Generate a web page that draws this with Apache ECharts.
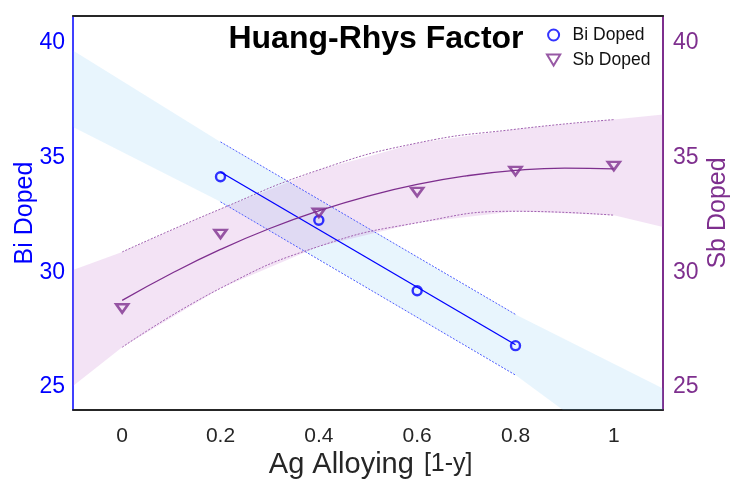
<!DOCTYPE html>
<html>
<head>
<meta charset="utf-8">
<script src="https://cdn.jsdelivr.net/npm/echarts@6/dist/echarts.min.js"></script>
<style>
html,body{margin:0;padding:0;background:#fff;}
#chart{width:731px;height:479px;}
</style>
</head>
<body>
<div id="chart"></div>
<script>
// ---- data ----
const xTicks = [0, 0.2, 0.4, 0.6, 0.8, 1];
const yTicks = [25, 30, 35, 40];

const biX = [0.2, 0.4, 0.6, 0.8];
const biY = [34.15, 32.26, 29.19, 26.80];
const biFitX = [0.2, 0.8];
const biFitY = [34.36, 26.84];
const biCiX = [0.2, 0.8];
const biCiUpper = [35.67, 28.16];
const biCiLower = [33.06, 25.52];
const biBandX = [-0.1, 0.2, 0.8, 1.1];
const biBandUpper = [39.65, 35.67, 28.16, 24.94];
const biBandLower = [36.32, 33.06, 25.52, 20.8];

const sbX = [0, 0.2, 0.4, 0.6, 0.8, 1.0];
const sbY = [28.42, 31.66, 32.58, 33.49, 34.40, 34.62];
const sbFitX = [0, 0.1, 0.2, 0.3, 0.4, 0.5, 0.6, 0.7, 0.8, 0.9, 1.0];
const sbFitY = [28.77, 29.94, 30.99, 31.90, 32.67, 33.31, 33.82, 34.19, 34.43, 34.53, 34.50];
const sbCiX = [0, 0.2, 0.4, 0.6, 0.8, 1.0];
const sbCiUpper = [30.88, 32.75, 34.45, 35.62, 36.22, 36.64];
const sbCiLower = [26.73, 29.30, 31.12, 32.15, 32.65, 32.48];
const sbBandX = [-0.1, 0, 0.2, 0.4, 0.6, 0.8, 1.0, 1.1];
const sbBandUpper = [30.09, 30.88, 32.75, 34.45, 35.62, 36.22, 36.64, 36.86];
const sbBandLower = [25.05, 26.73, 29.30, 31.12, 32.15, 32.65, 32.48, 31.97];

// ---- styles ----
const BLUE = '#0000ff';
const PURPLE = '#7e2f8e';
const FONT = 'Liberation Sans';
const DOWN_TRI = 'path://M0,0L12,0L6,10Z';

function pairs(xs, ys) { return xs.map((x, i) => [x, ys[i]]); }

function bandSeries(name, xs, up, lo, fill, yAxisIndex) {
  return {
    type: 'custom',
    name: name,
    yAxisIndex: yAxisIndex,
    silent: true,
    z: 1,
    clip: true,
    data: [[xs[0], up[0]]],
    renderItem: function (params, api) {
      const pts = [];
      for (let i = 0; i < xs.length; i++) pts.push(api.coord([xs[i], up[i]]));
      for (let i = xs.length - 1; i >= 0; i--) pts.push(api.coord([xs[i], lo[i]]));
      const cs = params.coordSys;
      return {
        type: 'polygon',
        shape: { points: pts },
        style: { fill: fill, stroke: null },
        clipPath: { type: 'rect', shape: { x: cs.x, y: cs.y, width: cs.width, height: cs.height } }
      };
    }
  };
}

function lineSeries(xs, ys, color, width, type, yAxisIndex, smooth, z) {
  return {
    type: 'line',
    yAxisIndex: yAxisIndex,
    data: pairs(xs, ys),
    showSymbol: false,
    symbol: 'none',
    smooth: smooth,
    silent: true,
    z: z,
    lineStyle: { color: color, width: width, type: type }
  };
}

const chart = echarts.init(document.getElementById('chart'), null, { renderer: 'canvas' });

const option = {
  animation: false,
  backgroundColor: '#ffffff',
  textStyle: { fontFamily: FONT },
  title: {
    text: 'Huang-Rhys Factor',
    left: 371,
    textAlign: 'center',
    top: 18,
    textStyle: { fontFamily: FONT, fontWeight: 'bold', fontSize: 32, color: '#000' }
  },
  legend: {
    orient: 'vertical',
    left: 541,
    top: 21,
    itemWidth: 28,
    itemHeight: 11,
    itemGap: 7,
    symbolKeepAspect: true,
    data: [
      { name: 'Bi Doped', icon: 'circle' },
      { name: 'Sb Doped', icon: DOWN_TRI }
    ],
    textStyle: { fontFamily: FONT, fontSize: 17.5, color: '#111' }
  },
  grid: { left: 73, right: 68, top: 16, bottom: 69, containLabel: false, outerBoundsMode: 'none' },
  xAxis: [
    {
      type: 'value', min: -0.1, max: 1.1, position: 'bottom',
      axisLine: { show: true, onZero: false, lineStyle: { color: '#262626', width: 2 } },
      axisTick: { show: false },
      splitLine: { show: false },
      axisLabel: {
        customValues: xTicks, fontSize: 21, color: '#262626', margin: 16, fontFamily: FONT,
        formatter: function (v) { return String(v); }
      },
      name: '{a|Ag Alloying} {b|[1-y]}',
      nameLocation: 'middle',
      nameGap: 40,
      nameMoveOverlap: false,
      nameTextStyle: {
        padding: [0, 0, 0, 12],
        rich: {
          a: { fontSize: 29, color: '#262626', fontFamily: FONT },
          b: { fontSize: 25, color: '#262626', fontFamily: FONT, width: 62, align: 'center' }
        }
      }
    },
    {
      type: 'value', min: -0.1, max: 1.1, position: 'top',
      axisLine: { show: true, onZero: false, lineStyle: { color: '#262626', width: 2 } },
      axisTick: { show: false }, axisLabel: { show: false }, splitLine: { show: false }
    }
  ],
  yAxis: [
    {
      type: 'value', min: 24, max: 41.15, position: 'left',
      axisLine: { show: true, onZero: false, lineStyle: { color: BLUE, width: 1.5 } },
      axisTick: { show: false }, splitLine: { show: false },
      axisLabel: { customValues: yTicks, fontSize: 23, color: BLUE, margin: 8, fontFamily: FONT },
      name: 'Bi Doped', nameLocation: 'middle', nameGap: 35, nameRotate: 90,
      nameMoveOverlap: false,
      nameTextStyle: { fontSize: 25, color: BLUE, fontFamily: FONT }
    },
    {
      type: 'value', min: 24, max: 41.15, position: 'right',
      axisLine: { show: true, onZero: false, lineStyle: { color: PURPLE, width: 2 } },
      axisTick: { show: false }, splitLine: { show: false },
      axisLabel: { customValues: yTicks, fontSize: 23, color: PURPLE, margin: 10, fontFamily: FONT },
      name: 'Sb Doped', nameLocation: 'middle', nameGap: 43, nameRotate: 90,
      nameMoveOverlap: false,
      nameTextStyle: { fontSize: 25, color: PURPLE, fontFamily: FONT }
    }
  ],
  series: [
    bandSeries('biBand', biBandX, biBandUpper, biBandLower, 'rgba(100,190,240,0.15)', 0),
    bandSeries('sbBand', sbBandX, sbBandUpper, sbBandLower, 'rgba(190,100,200,0.18)', 1),
    lineSeries(biCiX, biCiUpper, '#4d5cff', 1, [2, 1.5], 0, false, 3),
    lineSeries(biCiX, biCiLower, '#4d5cff', 1, [2, 1.5], 0, false, 3),
    lineSeries(sbCiX, sbCiUpper, '#a060b0', 1, [2, 1.5], 1, true, 3),
    lineSeries(sbCiX, sbCiLower, '#a060b0', 1, [2, 1.5], 1, true, 3),
    lineSeries(biFitX, biFitY, BLUE, 1.3, 'solid', 0, false, 4),
    lineSeries(sbFitX, sbFitY, PURPLE, 1.3, 'solid', 1, true, 4),
    {
      type: 'scatter', name: 'Bi Doped', yAxisIndex: 0, z: 5,
      data: pairs(biX, biY),
      symbol: 'circle', symbolSize: 9,
      itemStyle: { color: 'rgba(255,255,255,0)', borderColor: BLUE, borderWidth: 2.4 }
    },
    {
      type: 'scatter', name: 'Sb Doped', yAxisIndex: 1, z: 5,
      data: pairs(sbX, sbY),
      symbol: DOWN_TRI, symbolSize: [12, 10], symbolKeepAspect: true,
      itemStyle: { color: 'rgba(255,255,255,0)', borderColor: PURPLE, borderWidth: 2.6 }
    }
  ]
};
chart.setOption(option);
</script>
</body>
</html>
